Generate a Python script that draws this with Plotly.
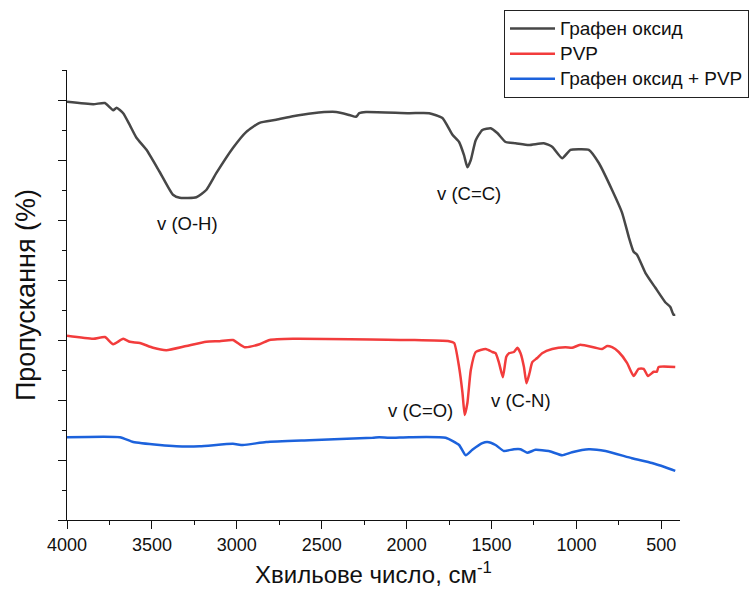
import plotly.graph_objects as go

# FTIR spectra: wavenumber (cm^-1) and transmittance (arbitrary %, offset per sample)
go_wavenumber = [4000, 3845, 3777, 3728, 3708, 3669, 3630, 3591, 3532, 3454, 3376, 3336,
                 3238, 3180, 3121, 3023, 2944, 2866, 2768, 2670, 2553, 2415, 2337, 2298,
                 2279, 2239, 1985, 1867, 1789, 1730, 1691, 1662, 1642, 1622, 1593, 1554,
                 1505, 1466, 1417, 1358, 1280, 1192, 1143, 1084, 1035, 986, 927, 868, 790,
                 731, 692, 663, 643, 594, 535, 477, 447, 428, 418]
go_transmittance = [69.7, 69.3, 69.5, 68.3, 68.7, 67.8, 65.8, 63.7, 61.7, 58.0, 54.2, 53.7,
                    53.8, 55.0, 57.8, 62.0, 64.7, 66.2, 66.7, 67.3, 67.8, 68.0, 67.5, 67.2,
                    67.8, 68.0, 67.8, 67.8, 67.0, 64.2, 63.0, 60.8, 58.8, 60.0, 63.3, 65.0,
                    65.3, 64.5, 63.0, 62.8, 62.5, 62.8, 62.2, 60.3, 61.7, 61.8, 61.7, 59.5, 55.0,
                    51.2, 47.2, 44.7, 44.2, 41.2, 38.7, 36.3, 35.5, 34.2, 34.2]

pvp_wavenumber = [4000, 3845, 3777, 3728, 3669, 3630, 3571, 3493, 3415, 3297, 3180, 3101,
                  3023, 2954, 2866, 2807, 2670, 1985, 1750, 1720, 1691, 1671, 1658, 1642,
                  1622, 1593, 1534, 1495, 1476, 1456, 1433, 1413, 1397, 1368, 1348, 1329,
                  1309, 1294, 1276, 1260, 1231, 1202, 1143, 1065, 1026, 977, 888, 849, 819,
                  790, 751, 702, 663, 634, 604, 579, 545, 526, 516, 418]
pvp_transmittance = [30.7, 30.2, 30.5, 29.3, 30.2, 29.7, 29.5, 28.7, 28.3, 29.0, 29.7, 29.8,
                     30.0, 28.8, 29.3, 30.0, 30.2, 30.0, 29.8, 29.5, 25.5, 21.2, 17.5, 19.5,
                     25.0, 28.0, 28.5, 28.0, 27.8, 26.2, 23.8, 27.2, 27.8, 28.0, 28.7, 27.8,
                     25.5, 22.8, 24.5, 26.3, 27.0, 27.8, 28.5, 28.8, 28.7, 29.2, 28.7, 28.5, 29.0,
                     28.8, 28.0, 26.2, 24.0, 25.2, 25.2, 24.0, 24.7, 24.7, 25.5, 25.5]

mix_wavenumber = [4000, 3689, 3610, 3454, 3356, 3219, 3023, 2964, 2827, 2572, 2200, 2161,
                  2102, 1985, 1770, 1691, 1652, 1613, 1554, 1525, 1476, 1427, 1368, 1329,
                  1290, 1241, 1163, 1084, 1026, 927, 829, 673, 555, 477, 418]
mix_transmittance = [13.8, 13.8, 13.0, 12.5, 12.3, 12.3, 12.7, 12.5, 13.0, 13.3, 13.7, 13.8,
                     13.7, 13.8, 13.7, 12.5, 10.8, 11.7, 12.8, 13.0, 12.5, 11.5, 11.8, 11.8,
                     11.2, 11.7, 11.5, 10.8, 11.3, 11.8, 11.5, 10.3, 9.5, 8.8, 8.2]

series_names = ["Графен оксид", "PVP", "Графен оксид + PVP"]
series_colors = ["#474747", "#f23c3c", "#1c62dc"]

# band assignments: (label, wavenumber, transmittance)
band_labels = ["v (O-H)", "v (C=C)", "v (C=O)", "v (C-N)"]
band_x = [3290, 1632, 1918, 1324]
band_y = [49.5, 54.5, 18.3, 20.0]

x_ticks = [4000, 3500, 3000, 2500, 2000, 1500, 1000, 500]

FONT = "Liberation Sans, Arial, sans-serif"

fig = go.Figure()
for name, xs, ys, color in zip(series_names,
                               [go_wavenumber, pvp_wavenumber, mix_wavenumber],
                               [go_transmittance, pvp_transmittance, mix_transmittance],
                               series_colors):
    # legend entries use a slightly larger glyph size than the row pitch implies
    fig.add_trace(go.Scatter(x=xs, y=ys, mode="lines",
                             name=f'<span style="font-size:19px">{name}</span>',
                             line=dict(color=color, width=2.5, shape="spline", smoothing=0.5)))

for label, bx, by in zip(band_labels, band_x, band_y):
    fig.add_annotation(x=bx, y=by, text=label, showarrow=False,
                       font=dict(family=FONT, size=18.5, color="#111111"))

fig.update_layout(
    width=752, height=590,
    margin=dict(l=67, r=72, t=70, b=70, autoexpand=False),
    paper_bgcolor="white", plot_bgcolor="white",
    font=dict(family=FONT, color="#111111"),
    showlegend=True,
    legend=dict(x=(504 - 67) / 613, y=1 + (70 - 10) / 450, xanchor="left", yanchor="top",
                bgcolor="white", bordercolor="#222222", borderwidth=1,
                font=dict(family=FONT, size=17, color="#111111"),
                itemwidth=45, tracegroupgap=0),
)

fig.update_xaxes(
    range=[4000, 390], showgrid=False, zeroline=False,
    showline=True, linecolor="#111111", linewidth=1,
    tickmode="array", tickvals=x_ticks,
    ticks="outside", ticklen=8, tickwidth=1, tickcolor="#111111",
    minor=dict(dtick=250, tick0=0, ticks="outside", ticklen=4, tickcolor="#111111"),
    tickfont=dict(family=FONT, size=18, color="#111111"),
    title=dict(text="Хвильове число, см<sup>-1</sup>", font=dict(family=FONT, size=24),
               standoff=12),
)
fig.update_yaxes(
    range=[0, 75], showgrid=False, zeroline=False,
    showline=True, linecolor="#111111", linewidth=1,
    tick0=0, dtick=10, showticklabels=False,
    ticks="outside", ticklen=8, tickwidth=1, tickcolor="#111111",
    minor=dict(dtick=5, tick0=0, ticks="outside", ticklen=4, tickcolor="#111111"),
    title=dict(text="Пропускання (%)", font=dict(family=FONT, size=27), standoff=14),
)

fig.write_html("out.html")
